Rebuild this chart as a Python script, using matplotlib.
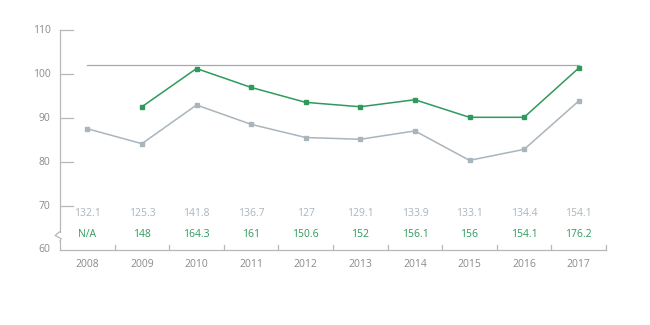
import matplotlib
matplotlib.use("Agg")
import matplotlib.pyplot as plt
import matplotlib.transforms as mtransforms

plt.rcParams["font.family"] = ["Open Sans", "DejaVu Sans"]

years = ["2008", "2009", "2010", "2011", "2012", "2013", "2014", "2015", "2016", "2017"]
index_gray = [87.6, 84.2, 93.0, 88.6, 85.6, 85.2, 87.1, 80.4, 82.9, 93.9]
index_green = [None, 92.6, 101.3, 97.0, 93.6, 92.6, 94.2, 90.2, 90.2, 101.4]
label_gray = ["132.1", "125.3", "141.8", "136.7", "127", "129.1", "133.9", "133.1", "134.4", "154.1"]
label_green = ["N/A", "148", "164.3", "161", "150.6", "152", "156.1", "156", "154.1", "176.2"]
ref_level = 102.0
y_ticks = [70, 80, 90, 100, 110]

GRAY = "#a9b5bc"
GREEN = "#2f9a5c"
AXIS = "#b8b8b8"
TEXT = "#8a8a8a"

fig = plt.figure(figsize=(6.5, 3.25), dpi=100)
ax = fig.add_axes([60 / 650, 1 - 250 / 325, 546 / 650, (250 - 30.3) / 325])
ax.set_xlim(-0.5, len(years) - 0.5)
ax.set_ylim(60, 110)

x = list(range(len(years)))

# reference level across the whole period
ax.plot([x[0], x[-1]], [ref_level, ref_level], color="#a8a8a8", lw=0.9)

ax.plot(x, index_gray, color=GRAY, lw=1.1, marker="s", ms=2.5, zorder=3)
gx = [i for i, v in zip(x, index_green) if v is not None]
gy = [v for v in index_green if v is not None]
ax.plot(gx, gy, color=GREEN, lw=1.1, marker="s", ms=2.5, zorder=4)

for sp in ax.spines.values():
    sp.set_visible(False)
ax.set_xticks([])
ax.set_yticks([])

# y axis with a break near the bottom
ytr = mtransforms.blended_transform_factory(ax.transAxes, ax.transData)
ax.plot([0, 0], [110, 64.2], color=AXIS, lw=0.9, transform=ytr, clip_on=False)
ax.plot([0, -0.009, 0.002, 0.0], [64.2, 63.3, 62.6, 62.0], color=AXIS, lw=0.9,
        transform=ytr, clip_on=False)
ax.plot([0, 0], [62.0, 60], color=AXIS, lw=0.9, transform=ytr, clip_on=False)
for t in y_ticks:
    ax.plot([0, 0.023], [t, t], color=AXIS, lw=0.9, transform=ytr, clip_on=False)
    ax.text(-0.017, t, str(t), transform=ytr, ha="right", va="center",
            fontsize=7.5, color=TEXT)
ax.text(-0.017, 60, "60", transform=ytr, ha="right", va="center",
        fontsize=7.5, color=TEXT)

# x axis with ticks between categories
ax.plot([-0.5, len(years) - 0.5], [60, 60], color=AXIS, lw=0.9, clip_on=False)
for b in range(1, len(years) + 1):
    ax.plot([b - 0.5, b - 0.5], [60, 61.2], color=AXIS, lw=0.9, clip_on=False)

for i, yr in enumerate(years):
    ax.text(i, 56.8, yr, ha="center", va="center", fontsize=7.5, color=TEXT)
    ax.text(i, 68.2, label_gray[i], ha="center", va="center", fontsize=7.5, color=GRAY)
    ax.text(i, 63.6, label_green[i], ha="center", va="center", fontsize=7.5, color=GREEN)

fig.savefig("out.png", dpi=100)
